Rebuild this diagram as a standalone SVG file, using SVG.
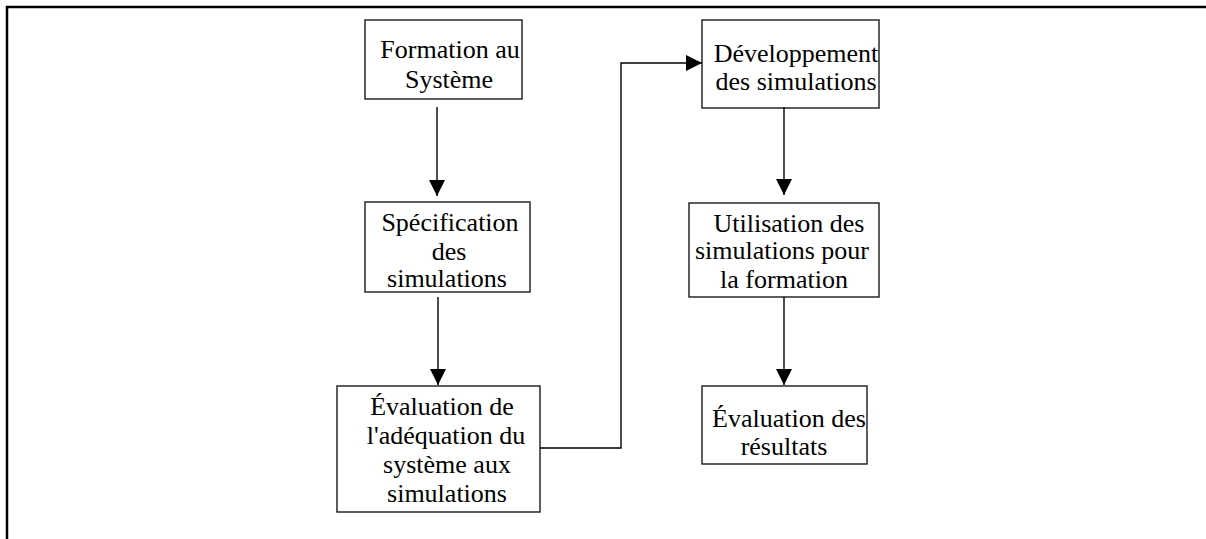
<svg xmlns="http://www.w3.org/2000/svg" width="1206" height="539" viewBox="0 0 1206 539">
<style>
.box{fill:#fff;stroke:#1a1a1a;stroke-width:1.4}
.t{font-family:"Liberation Serif","Times New Roman",serif;font-size:26px;fill:#000;text-anchor:middle}
.c{fill:none;stroke:#000;stroke-width:1.4}
.frame{fill:none;stroke:#000;stroke-width:2.5}
</style>
<defs>
<marker id="ah" markerWidth="16" markerHeight="16" viewBox="0 0 16 16" refX="16" refY="8" orient="auto" markerUnits="userSpaceOnUse">
<path d="M0,0 L16,8 L0,16 Z" fill="#000"/>
</marker>
</defs>
<path class="frame" d="M7,539 L7,7 L1206,7"/>
<g id="n1">
<rect class="box" x="365" y="20" width="157" height="79"/>
<text class="t" x="450" y="58">Formation au</text>
<text class="t" x="449" y="88">Système</text>
</g>
<g id="n2">
<rect class="box" x="365" y="202" width="165" height="90"/>
<text class="t" x="450" y="231">Spécification</text>
<text class="t" x="449" y="260">des</text>
<text class="t" x="447" y="287">simulations</text>
</g>
<g id="n3">
<rect class="box" x="337" y="386" width="203" height="126"/>
<text class="t" x="442" y="415">Évaluation de</text>
<text class="t" x="446" y="444">l'adéquation du</text>
<text class="t" x="447" y="473">système aux</text>
<text class="t" x="447" y="502">simulations</text>
</g>
<g id="n4">
<rect class="box" x="702" y="20" width="177" height="88"/>
<text class="t" x="796" y="62">Développement</text>
<text class="t" x="796" y="90">des simulations</text>
</g>
<g id="n5">
<rect class="box" x="689" y="203" width="190" height="94"/>
<text class="t" x="789" y="232">Utilisation des</text>
<text class="t" x="782" y="259">simulations pour</text>
<text class="t" x="784" y="288">la formation</text>
</g>
<g id="n6">
<rect class="box" x="702" y="386" width="165" height="78"/>
<text class="t" x="789" y="427">Évaluation des</text>
<text class="t" x="784" y="455">résultats</text>
</g>
<g id="connectors">
<path class="c" d="M437,107 L437,196" marker-end="url(#ah)"/>
<path class="c" d="M438,297 L438,385" marker-end="url(#ah)"/>
<path class="c" d="M540,448 L621,448 L621,63 L702,63" marker-end="url(#ah)"/>
<path class="c" d="M784,107 L784,195" marker-end="url(#ah)"/>
<path class="c" d="M784,297 L784,385" marker-end="url(#ah)"/>
</g>
</svg>
